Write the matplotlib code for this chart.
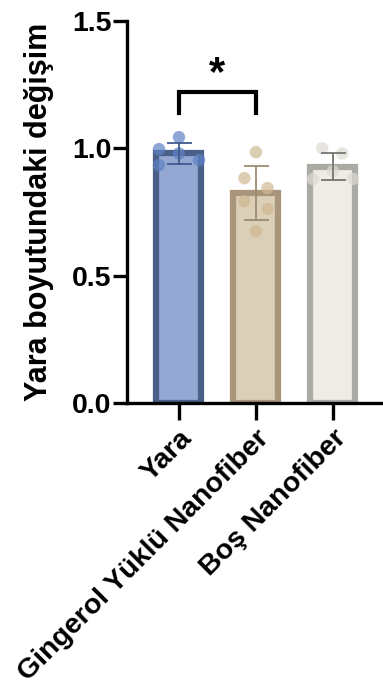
import numpy as np
import matplotlib.pyplot as plt

plt.rcParams['font.family'] = ['Liberation Sans', 'DejaVu Sans']
plt.rcParams['font.weight'] = 'bold'

groups = ['Yara', 'Gingerol Yüklü Nanofiber', 'Boş Nanofiber']
means = [0.98, 0.824, 0.927]
sds = [0.042, 0.107, 0.053]

yara_pts = [1.044, 0.997, 0.98, 0.934, 0.954]
ging_pts = [0.985, 0.883, 0.844, 0.793, 0.762, 0.675]
bos_pts = [1.0, 0.98, 0.91, 0.88, 0.88]

yara_jit = [0.0, -0.26, 0.0, -0.26, 0.26]
ging_jit = [0.0, -0.15, 0.15, -0.15, 0.15, 0.0]
bos_jit = [-0.14, 0.12, 0.0, -0.26, 0.26]

fill_c = ['#94a8d3', '#dccfb7', '#efece7']
edge_c = ['#4b6088', '#a8957a', '#ababa6']
dot_c = ['#5f82c4', '#cfb892', '#dedad3']
err_c = ['#3f5a8e', '#9c8b72', '#77756f']

fig = plt.figure(figsize=(3.83, 6.91), dpi=100)
ax = fig.add_axes([0.3316, 0.4168, 0.6684, 0.5528])

x = np.arange(len(groups))
ax.bar(x, means, width=0.585, color=fill_c, edgecolor=edge_c, linewidth=4.5, zorder=1)

for i, (pts, jit) in enumerate([(yara_pts, yara_jit), (ging_pts, ging_jit), (bos_pts, bos_jit)]):
    ax.scatter(i + np.array(jit), pts, s=80, color=dot_c[i], alpha=0.7,
               edgecolor='none', zorder=3)
    ax.errorbar(i, means[i], yerr=sds[i], color=err_c[i], capsize=9,
                elinewidth=1.3, capthick=1.3, zorder=4)

# significance bracket
ax.plot([0, 0, 1, 1], [1.139, 1.221, 1.221, 1.139], color='black', lw=3,
        solid_joinstyle='miter', zorder=5)
ax.text(0.5, 1.29, '*', ha='center', va='center', fontsize=30, fontweight='bold')

ax.set_xlim(-0.675, 2.65)
ax.set_ylim(0, 1.5)
ax.set_yticks([0.0, 0.5, 1.0, 1.5])
ax.set_yticklabels(['0.0', '0.5', '1.0', '1.5'])
ax.set_xticks(x)
ax.set_xticklabels(groups, rotation=45, ha='right', rotation_mode='anchor')
ax.set_ylabel('Yara boyutundaki değişim', fontsize=22, fontweight='bold', labelpad=13)

for s in ['top', 'right']:
    ax.spines[s].set_visible(False)
for s in ['left', 'bottom']:
    ax.spines[s].set_linewidth(2.4)
ax.tick_params(axis='both', width=2.4, length=10, labelsize=20.5)
ax.tick_params(axis='y', pad=1)
ax.tick_params(axis='x', length=12, pad=4)

plt.savefig('out.png', dpi=100)
